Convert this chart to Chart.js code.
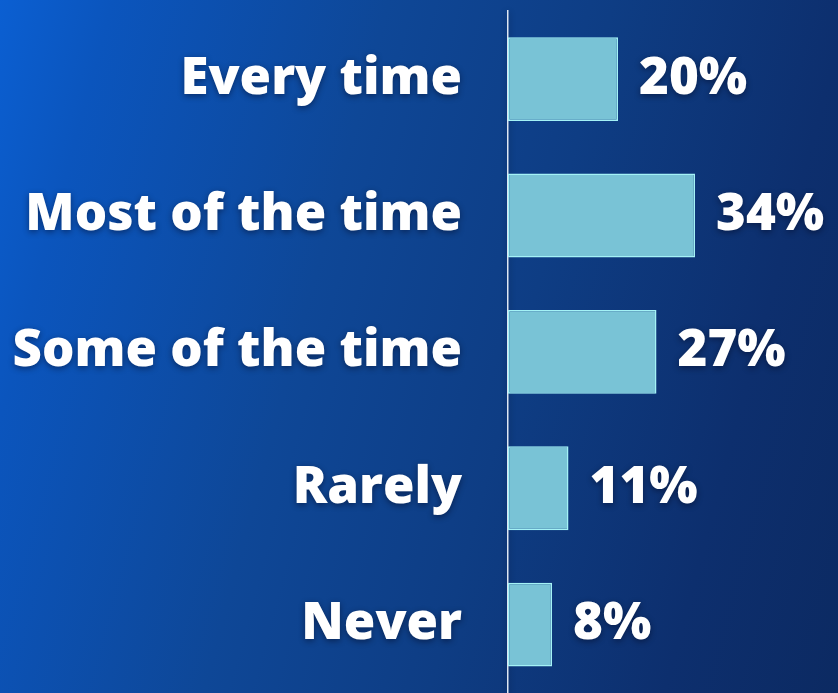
<!DOCTYPE html>
<html>
<head>
<meta charset="utf-8">
<script src="https://cdn.jsdelivr.net/npm/chart.js@4"></script>
<style>
  html, body { margin: 0; padding: 0; }
  body {
    width: 838px; height: 693px; overflow: hidden;
    background: linear-gradient(105deg, #0b5fd2 0%, #0b55bd 11%, #0e4797 38%, #0e3d84 60%, #0d2f6e 83%, #0c2a62 100%);
  }
  #wrap { position: relative; width: 838px; height: 693px; }
</style>
</head>
<body>
<div id="wrap"><canvas id="c" width="838" height="693"></canvas></div>
<script>
const categories = ["Every time", "Most of the time", "Some of the time", "Rarely", "Never"];
const values = [20, 34, 27, 11, 8];
const valueLabels = ["20%", "34%", "27%", "11%", "8%"];

const FONT = "'Open Sans'";
const FSIZE = 51;
const labelPlugin = {
  id: 'valueLabels',
  beforeDraw(chart) {
    const ctx = chart.ctx;
    ctx.shadowColor = 'rgba(0,0,20,0.45)';
    ctx.shadowBlur = 6;
    ctx.shadowOffsetY = 2;
  },
  beforeDatasetsDraw(chart) {
    const ctx = chart.ctx;
    ctx.shadowColor = 'transparent';
    ctx.shadowBlur = 0;
    ctx.shadowOffsetY = 0;
  },
  afterDatasetsDraw(chart) {
    const ctx = chart.ctx;
    const meta = chart.getDatasetMeta(0);
    ctx.save();
    ctx.font = "800 " + FSIZE + "px " + FONT;
    ctx.fillStyle = '#ffffff';
    ctx.textAlign = 'left';
    ctx.textBaseline = 'middle';
    ctx.shadowColor = 'rgba(0,0,20,0.45)';
    ctx.shadowBlur = 6;
    ctx.shadowOffsetY = 2;
    meta.data.forEach((bar, i) => {
      ctx.fillText(valueLabels[i], bar.x + 21, bar.y);
    });
    ctx.restore();
  }
};

new Chart(document.getElementById('c'), {
  type: 'bar',
  data: {
    labels: categories,
    datasets: [{
      data: values,
      backgroundColor: '#79c3d6',
      borderColor: '#a4f2f6',
      borderWidth: 1.5,
      borderSkipped: false,
      categoryPercentage: 1,
      barPercentage: 0.615
    }]
  },
  options: {
    indexAxis: 'y',
    responsive: false,
    animation: false,
    layout: { padding: { top: 11, bottom: 0, left: 0, right: 0 } },
    plugins: { legend: { display: false }, tooltip: { enabled: false } },
    scales: {
      x: { display: false, min: 0, max: 60 },
      y: {
        afterFit(scale) { scale.width = 508; },
        grid: { display: true, color: 'transparent', drawTicks: true, tickLength: 46 },
        border: { display: true, color: '#dde6f2', width: 1.5 },
        ticks: {
          color: '#ffffff',
          padding: 0,
          font: { family: FONT, size: FSIZE, weight: '800', lineHeight: 0.01 }
        }
      }
    }
  },
  plugins: [labelPlugin]
});
</script>
</body>
</html>
